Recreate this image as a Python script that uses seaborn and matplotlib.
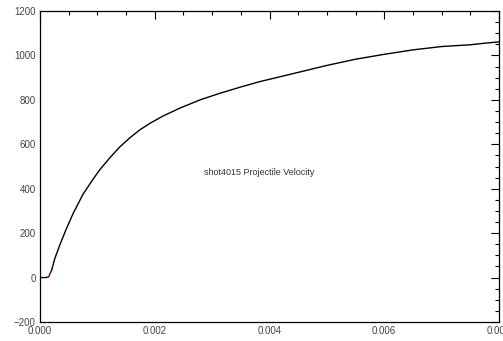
import matplotlib
matplotlib.use("Agg")
import matplotlib.pyplot as plt
import seaborn as sns
import pandas as pd
from matplotlib.ticker import MultipleLocator, FormatStrFormatter

time_s = [0.0, 0.0001, 0.00015, 0.000203, 0.00026, 0.00035, 0.00046, 0.00058,
          0.00075, 0.00093, 0.00105, 0.00122, 0.00139, 0.00157, 0.00174, 0.00192,
          0.00215, 0.00244, 0.00279, 0.00314, 0.0035, 0.00383, 0.0042, 0.0046,
          0.005, 0.0055, 0.006, 0.0065, 0.007, 0.0075, 0.00775, 0.008]
velocity = [0, 0, 3, 34, 87, 150, 220, 290, 375, 445, 488, 540, 588, 630, 665, 695,
            728, 763, 800, 830, 858, 882, 905, 930, 955, 983, 1005, 1025, 1040,
            1048, 1055, 1061]
red_time = [0.00014, 0.00022]
red_velocity = [0, 36]
label_text = "shot4015 Projectile Velocity"

sns.set_style("white")
plt.rcParams['font.family'] = ['Liberation Sans', 'DejaVu Sans']

fig = plt.figure(figsize=(5.03, 3.41), dpi=100)
ax = fig.add_axes([40/503, 1-322/341, 459/503, 311/341])

df = pd.DataFrame({"t": time_s, "v": velocity})
sns.lineplot(data=df, x="t", y="v", ax=ax, color="black", linewidth=1.0,
             sort=False, estimator=None)
dfr = pd.DataFrame({"t": red_time, "v": red_velocity})
sns.lineplot(data=dfr, x="t", y="v", ax=ax, color="#c04040", linewidth=0.8,
             sort=False, estimator=None, alpha=0.7)

ax.set_xlim(0, 0.008)
ax.set_ylim(-200, 1200)
ax.xaxis.set_major_locator(MultipleLocator(0.002))
ax.xaxis.set_minor_locator(MultipleLocator(0.0005))
ax.yaxis.set_major_locator(MultipleLocator(200))
ax.yaxis.set_minor_locator(MultipleLocator(50))
ax.xaxis.set_major_formatter(FormatStrFormatter("%.3f"))
ax.tick_params(which="both", direction="in", top=True, right=True,
               labelsize=7, labelcolor="#444444", color="black", width=0.8)
ax.tick_params(which="major", length=6, pad=3)
ax.tick_params(which="minor", length=3)
ax.set_xlabel("")
ax.set_ylabel("")
for s in ax.spines.values():
    s.set_visible(True)
    s.set_color("black")
    s.set_linewidth(0.9)

ax.text(0.00382, 471, label_text, fontsize=6.5, ha="center", va="center",
        color="#333333")

fig.savefig("out.png", dpi=100)
